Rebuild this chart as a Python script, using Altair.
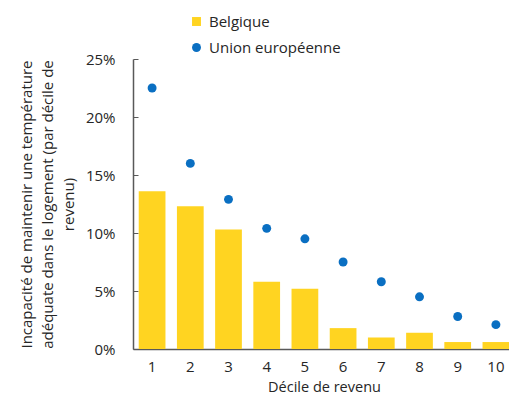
import altair as alt
import pandas as pd

deciles = [1, 2, 3, 4, 5, 6, 7, 8, 9, 10]
belgique = [0.136, 0.123, 0.103, 0.058, 0.052, 0.018, 0.010, 0.014, 0.006, 0.006]
ue = [0.225, 0.160, 0.129, 0.104, 0.095, 0.075, 0.058, 0.045, 0.028, 0.021]
series = ["Belgique", "Union européenne"]

YELLOW = "#FFD421"
BLUE = "#0A6FC2"
FONT = "Open Sans"
TXT = "#262626"

df = pd.DataFrame(
    {"decile": deciles * 2,
     "valeur": belgique + ue,
     "serie": [series[0]] * len(deciles) + [series[1]] * len(deciles)}
)

color = alt.Color("serie:N", scale=alt.Scale(domain=series, range=[YELLOW, BLUE]),
                  legend=alt.Legend(title=None, orient="none", legendX=56, legendY=-45,
                                    labelFontSize=15, labelFont=FONT, labelColor=TXT,
                                    symbolSize=80, rowPadding=10, labelOffset=5,
                                    symbolStrokeWidth=0))
shape = alt.Shape("serie:N", scale=alt.Scale(domain=series, range=["square", "circle"]))

x = alt.X("decile:O", title="Décile de revenu",
          scale=alt.Scale(paddingInner=0.3, paddingOuter=0.15),
          axis=alt.Axis(labelAngle=0, ticks=False, labelPadding=10, titlePadding=6,
                        titleFontSize=14.5,
                        domainColor="#595959", domainWidth=1.5))
y = alt.Y("valeur:Q", title=["Incapacité de maintenir une température",
                              "adéquate dans le logement (par décile de",
                              "revenu)"],
          scale=alt.Scale(domain=[0, 0.25]),
          axis=alt.Axis(format=".0%", values=[0, 0.05, 0.1, 0.15, 0.2, 0.25], grid=False,
                        tickSize=alt.ExprRef(expr="-5"), tickColor="#595959", labelPadding=23,
                        domainColor="#595959", domainWidth=1.5,
                        titleX=-107, titleY=145, titleAngle=270, titleAlign="center",
                        titleBaseline="middle", titleLineHeight=21))

bars = alt.Chart(df).transform_filter(alt.datum.serie == series[0]).mark_bar().encode(
    x=x, y=y, color=color, shape=shape)
points = alt.Chart(df).transform_filter(alt.datum.serie == series[1]).mark_point(
    filled=True, size=80, opacity=1).encode(x=x, y=y, color=color, shape=shape)

chart = alt.layer(bars, points).properties(
    width=382, height=290,
    autosize=alt.AutoSizeParams(type="none"),
    padding={"left": 125, "top": 51, "right": -6, "bottom": 50},
).configure_view(stroke=None).configure_axis(
    labelFont=FONT, titleFont=FONT, labelFontSize=15, titleFontSize=15,
    labelColor=TXT, titleColor=TXT, titleFontWeight="normal"
)

chart.save("out.html", embed_options={"renderer": "svg", "actions": False})
